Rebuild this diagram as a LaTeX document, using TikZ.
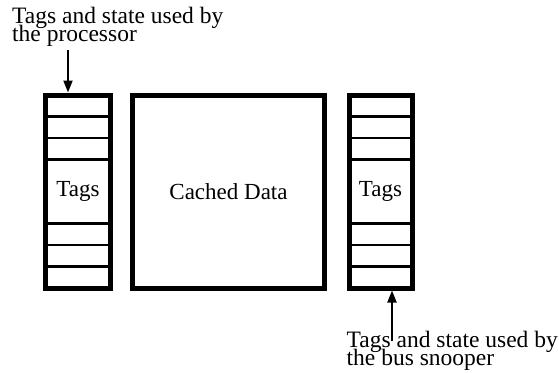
\documentclass[tikz,border=0pt]{standalone}
\usepackage{fontspec}
\setmainfont{Liberation Serif}
\usetikzlibrary{arrows.meta,calc}
\newcommand\tightlines{\lineskiplimit=-100pt\relax}

\begin{document}
\begin{tikzpicture}[x=1pt, y=-1pt, >={Triangle[length=12pt,width=9pt]},
  font=\fontsize{23}{18}\selectfont,
  tagbox/.style={draw, line width=5pt, minimum width=65pt, minimum height=193pt,
    inner sep=0pt, outer sep=0pt},
  databox/.style={tagbox, minimum width=192pt},
  divider/.style={line width=2.5pt},
  caption/.style={inner sep=0pt, align=left,
    font=\fontsize{23.5}{17.5}\selectfont\tightlines}]
\useasboundingbox (0,0) rectangle (559,372);
% tag copies and the cache data array
\node[tagbox] (ptags) at (78,191.5) {Tags};
\node[databox] (data) at (228.5,191.5) {Cached Data};
\node[tagbox, minimum width=63pt] (stags) at (380.5,191.5) {Tags};
% tag entries
\foreach \k in {1,2,3,6,7,8} {
  \draw[divider] ($(ptags.north west)!\k/9!(ptags.south west)$) -- ($(ptags.north east)!\k/9!(ptags.south east)$);
  \draw[divider] ($(stags.north west)!\k/9!(stags.south west)$) -- ($(stags.north east)!\k/9!(stags.south east)$);
}
% labels
\node[caption, anchor=north west] (plabel) at (12,7) {Tags and state used by\\the processor};
\node[caption, anchor=north east] (slabel) at (558,331) {Tags and state used by\\the bus snooper};
\coordinate (pin) at (68,50);
\coordinate (sin) at (392,341);
\draw[->, line width=2pt, shorten >=2.5pt] (pin) -- (pin |- ptags.north);
\draw[->, line width=2pt, shorten >=2.5pt] (sin) -- (sin |- stags.south);
\end{tikzpicture}
\end{document}
